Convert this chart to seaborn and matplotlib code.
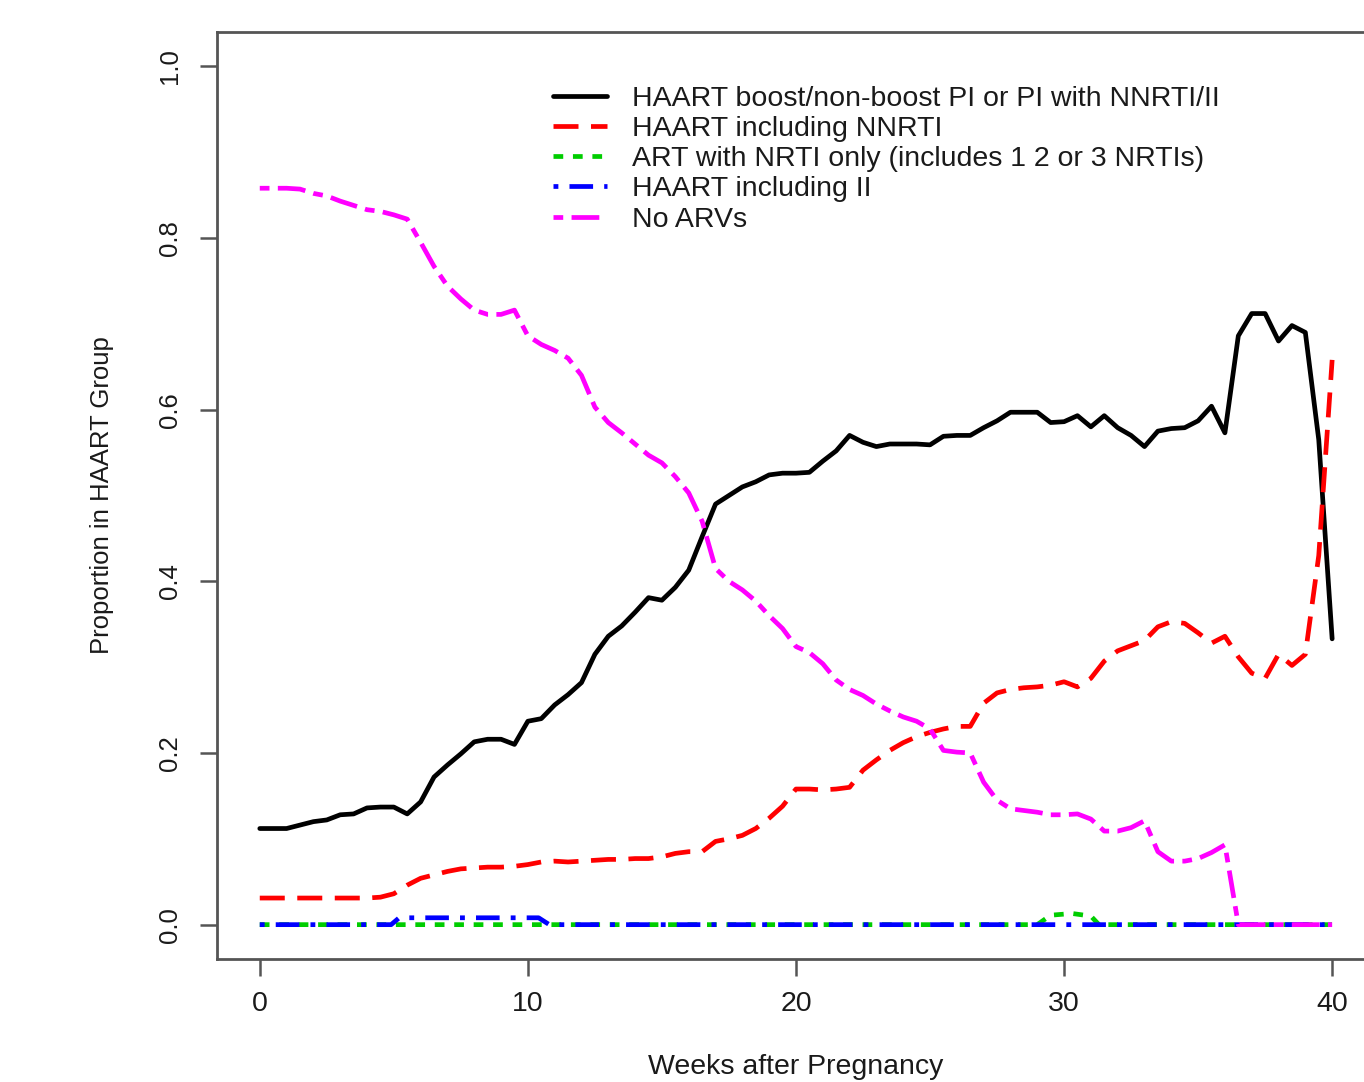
import numpy as np
import pandas as pd
import matplotlib
matplotlib.use("Agg")
import matplotlib.pyplot as plt
import seaborn as sns

# half-week grid used by the three main series
weeks = np.arange(0, 40.5, 0.5)

haart_pi = [0.112, 0.112, 0.112, 0.116, 0.120, 0.122, 0.128, 0.129, 0.136, 0.137,
            0.137, 0.129, 0.143, 0.172, 0.186, 0.199, 0.213, 0.216, 0.216, 0.210,
            0.237, 0.240, 0.256, 0.268, 0.282, 0.315, 0.336, 0.348, 0.364, 0.381,
            0.378, 0.393, 0.413, 0.452, 0.490, 0.500, 0.510, 0.516, 0.524, 0.526,
            0.526, 0.527, 0.540, 0.552, 0.570, 0.562, 0.557, 0.560, 0.560, 0.560,
            0.559, 0.569, 0.570, 0.570, 0.579, 0.587, 0.597, 0.597, 0.597, 0.585,
            0.586, 0.593, 0.580, 0.593, 0.579, 0.570, 0.557, 0.575, 0.578, 0.579,
            0.587, 0.604, 0.573, 0.686, 0.712, 0.712, 0.680, 0.698, 0.690, 0.565,
            0.333]

haart_nnrti = [0.031, 0.031, 0.031, 0.031, 0.031, 0.031, 0.031, 0.031, 0.031, 0.032,
               0.036, 0.046, 0.054, 0.058, 0.062, 0.065, 0.066, 0.067, 0.067, 0.068,
               0.070, 0.073, 0.074, 0.073, 0.074, 0.075, 0.076, 0.076, 0.077, 0.077,
               0.079, 0.083, 0.085, 0.085, 0.097, 0.100, 0.104, 0.112, 0.124, 0.138,
               0.158, 0.158, 0.157, 0.158, 0.160, 0.180, 0.192, 0.203, 0.212, 0.219,
               0.224, 0.228, 0.231, 0.231, 0.258, 0.270, 0.274, 0.276, 0.277, 0.279,
               0.283, 0.277, 0.287, 0.307, 0.319, 0.325, 0.331, 0.347, 0.353, 0.351,
               0.340, 0.328, 0.336, 0.312, 0.293, 0.287, 0.315, 0.302, 0.315, 0.430,
               0.658]

no_arv = [0.858, 0.858, 0.858, 0.857, 0.852, 0.849, 0.843, 0.838, 0.833, 0.831,
          0.827, 0.822, 0.795, 0.767, 0.744, 0.729, 0.716, 0.711, 0.711, 0.716,
          0.686, 0.676, 0.669, 0.660, 0.640, 0.603, 0.585, 0.573, 0.560, 0.547,
          0.538, 0.522, 0.503, 0.470, 0.415, 0.400, 0.390, 0.377, 0.360, 0.345,
          0.324, 0.317, 0.304, 0.285, 0.274, 0.267, 0.257, 0.249, 0.242, 0.237,
          0.228, 0.203, 0.201, 0.200, 0.166, 0.145, 0.135, 0.133, 0.131, 0.128,
          0.128, 0.129, 0.123, 0.109, 0.109, 0.113, 0.121, 0.085, 0.074, 0.074,
          0.077, 0.084, 0.093, 0.000, 0.000, 0.000, 0.000, 0.000, 0.000, 0.000,
          0.000]

# the two small series only change in a few places
nrti_weeks = [0, 29.0, 29.5, 30.3, 31.0, 31.3, 40]
nrti_only = [0.0, 0.0, 0.011, 0.013, 0.010, 0.0, 0.0]

ii_weeks = [0, 4.9, 5.2, 10.4, 10.8, 40]
haart_ii = [0.0, 0.0, 0.008, 0.008, 0.0, 0.0]

labels = ["HAART boost/non-boost PI or PI with NNRTI/II",
          "HAART including NNRTI",
          "ART with NRTI only (includes 1 2 or 3 NRTIs)",
          "HAART including II",
          "No ARVs"]
colors = ["black", "#FF0000", "#00CD00", "#0000FF", "#FF00FF"]
# dash patterns in points (R lty 1, 2, 3, 4, 6)
styles = ["-", (0, (18, 9)), (0, (7, 7)), (0, (3.5, 8, 17, 8)), (0, (7, 6, 20, 6))]

xticks = [0, 10, 20, 30, 40]
yticks = [0.0, 0.2, 0.4, 0.6, 0.8, 1.0]
ytick_labels = ["0.0", "0.2", "0.4", "0.6", "0.8", "1.0"]

sns.set_theme(style="white")
plt.rcParams["font.family"] = ["Liberation Sans", "DejaVu Sans"]
plt.rcParams["lines.scale_dashes"] = False

series = [
    (weeks, haart_pi),
    (weeks, haart_nnrti),
    (nrti_weeks, nrti_only),
    (ii_weeks, haart_ii),
    (weeks, no_arv),
]

fs = 20.5      # horizontal text
fs_v = 18.5    # rotated text (source picture was squeezed vertically)
txt = "#1a1a1a"

fig = plt.figure(figsize=(13.64, 10.82), dpi=100)
ax = fig.add_axes([0.159, 0.1137, 1.0081 - 0.159, 0.9704 - 0.1137])

for (xs, ys), lab, col, ls in zip(series, labels, colors, styles):
    df = pd.DataFrame({"week": xs, "prop": ys})
    sns.lineplot(data=df, x="week", y="prop", ax=ax, color=col, linestyle=ls,
                 linewidth=3.4, label=lab, sort=False, estimator=None)

ax.set_xlim(-1.6, 41.6)
ax.set_ylim(-0.04, 1.04)
ax.set_xticks(xticks)
ax.set_xticklabels([str(t) for t in xticks])
ax.set_yticks(yticks)
ax.set_yticklabels(ytick_labels, rotation=90, va="center")

for sp in ax.spines.values():
    sp.set_color("#555555")
    sp.set_linewidth(2.0)
ax.tick_params(axis="both", direction="out", length=12, width=1.8, color="#555555",
               labelcolor=txt, left=True, bottom=True)
ax.tick_params(axis="x", labelsize=fs, pad=11)
ax.tick_params(axis="y", labelsize=fs_v, pad=13)

ax.set_xlabel("Weeks after Pregnancy", fontsize=fs, color=txt, labelpad=27)
ax.set_ylabel("Proportion in HAART Group", fontsize=fs_v, color=txt, labelpad=32)

leg = ax.legend(loc="upper left", bbox_to_anchor=(553 / 1364, 1 - 86 / 1082),
                bbox_transform=fig.transFigure, frameon=False, fontsize=fs,
                handlelength=1.9, handletextpad=0.88, labelspacing=0.145,
                borderpad=0, borderaxespad=0)
for t in leg.get_texts():
    t.set_color(txt)

fig.savefig("out.png", dpi=100, facecolor="white")
